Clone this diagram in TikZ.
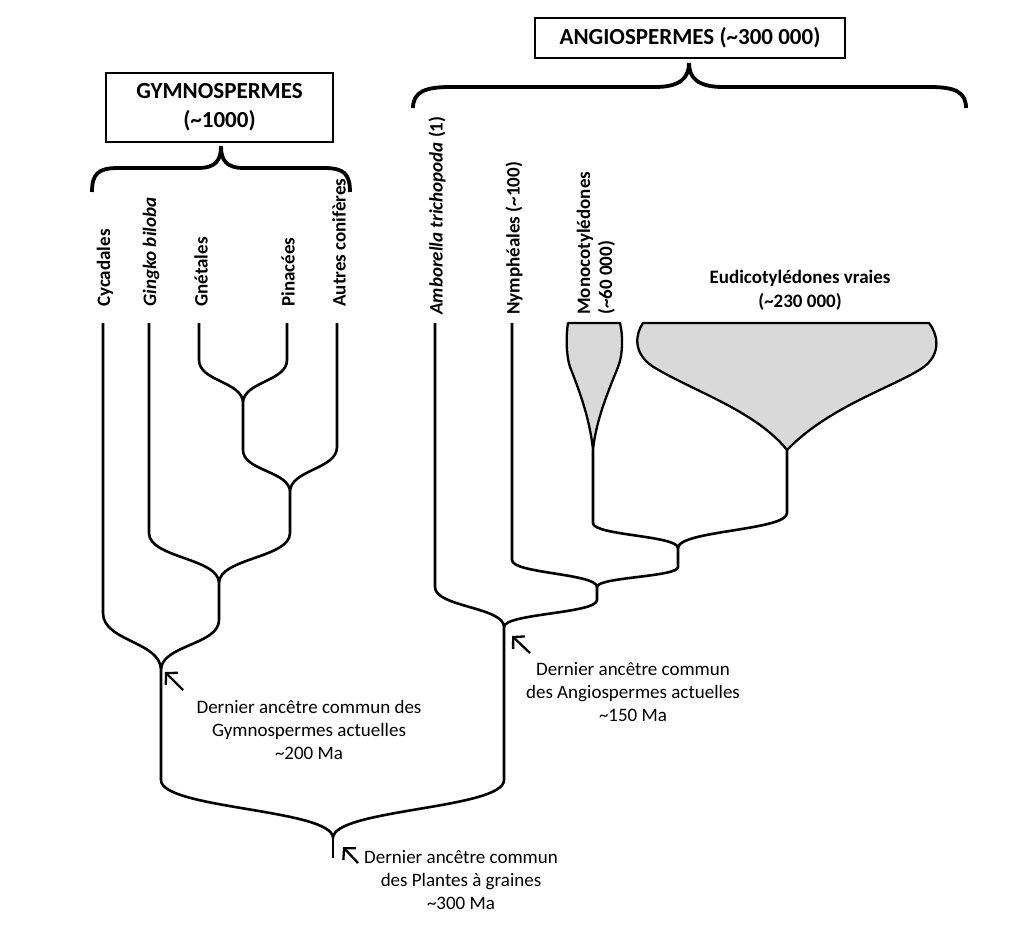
\documentclass[tikz,border=0pt]{standalone}
\usepackage{fontspec}
\setmainfont{Carlito}
\usetikzlibrary{calc,arrows.meta}
\tikzset{
  branche/.style={to path={let \p1=(\tikztostart),\p2=(\tikztotarget) in
    .. controls (\x1,\y1+0.5*#1pt) and (\x2,\y1+0.5*#1pt) .. (\x2,\y1+#1pt) -- (\tikztotarget)}},
  branche/.default=45,
  titre/.style={draw,line width=1.6pt,inner sep=0pt,align=center,font=\fontsize{23}{29}\selectfont\bfseries},
  accolade/.style={line width=3.8pt},
  etiq/.style={rotate=90,anchor=west,inner sep=0pt,align=left,font=\fontsize{19}{22}\selectfont\bfseries},
  texte/.style={align=center,inner sep=0pt,font=\fontsize{19}{23}\selectfont},
  groupe/.style={draw,line width=2.3pt,fill=black!15,line join=round},
  fleche/.style={-{Straight Barb[length=8pt,width=17pt]},line width=2.3pt}
}
\begin{document}
\begin{tikzpicture}[x=1pt,y=-1pt,line width=2.6pt]
\useasboundingbox (0,0) rectangle (1024,927);
%titres et accolades
\node[titre,minimum width=227pt,minimum height=69pt] (tgym) at (219.5,107.5) {GYMNOSPERMES\\(\textasciitilde1000)};
\node[titre,minimum width=310pt,minimum height=40pt] (tang) at (690,38) {ANGIOSPERMES (\textasciitilde300 000)};
\draw[accolade] (92,192) .. controls (92,174) and (98,168) .. (118,168) -- (198,168) .. controls (216,168) and (221,160) .. (221,146)
  .. controls (221,160) and (226,168) .. (244,168) -- (324,168) .. controls (344,168) and (350,174) .. (350,192);
\draw[accolade] (413,108) .. controls (413,92) and (425,87) .. (450,87) -- (655,87) .. controls (680,87) and (689,78) .. (689,63)
  .. controls (689,78) and (698,87) .. (723,87) -- (930,87) .. controls (955,87) and (966,92) .. (966,108);
%noms des groupes
\node[etiq] (lcyc) at (105,308) {Cycadales};
\node[etiq] (lgin) at (151,308) {\itshape Gingko biloba};
\node[etiq] (lgne) at (201,308) {Gnétales};
\node[etiq] (lpin) at (288,308) {Pinacées};
\node[etiq] (laut) at (339,308) {Autres conifères};
\node[etiq] (lamb) at (437,316) {\itshape Amborella trichopoda\/ \upshape(1)};
\node[etiq] (lnym) at (514,316) {Nymphéales (\textasciitilde100)};
\node[etiq] (lmon) at (596,316) {Monocotylédones\\(\textasciitilde60 000)};
\node[texte,font=\fontsize{19}{24}\selectfont\bfseries] (leud) at (800,290) {Eudicotylédones vraies\\(\textasciitilde230 000)};
%surfaces grises
\draw[groupe] (568,323) -- (620,323) .. controls (623,335) and (623,355) .. (618,367) .. controls (608,392) and (596,420) .. (593,450)
  .. controls (590,420) and (580,392) .. (570,367) .. controls (566,355) and (566,335) .. (568,323) -- cycle;
\draw[groupe] (643,323) -- (929,323) .. controls (937,333) and (942,352) .. (925,366) .. controls (900,385) and (830,405) .. (787,450)
  .. controls (755,410) and (690,390) .. (652,366) .. controls (632,352) and (636,333) .. (643,323) -- cycle;
%extremites des branches
\coordinate (cyc) at (103,323);
\coordinate (gin) at (149,323);
\coordinate (gne) at (199,323);
\coordinate (pin) at (287,323);
\coordinate (aut) at (337,323);
\coordinate (amb) at (435,323);
\coordinate (nym) at (512,323);
\coordinate (mon) at (593,450);
\coordinate (eud) at (787,450);
%noeuds
\coordinate (jgp) at (243,403);
\coordinate (jca) at (290,492);
\coordinate (jgi) at (219,583);
\coordinate (jgy) at (161,670);
\coordinate (jan) at (504,627);
\coordinate (jny) at (597,587);
\coordinate (jme) at (678,548);
\coordinate (rac) at (333,838);
\coordinate (bas) at (333,858);
%arbre
\draw (jgp) to[branche=43] (gne) (jgp) to[branche=43] (pin);
\draw (jca) to[branche=42] (jgp) (jca) to[branche=45] (aut);
\draw (jgi) to[branche=50] (gin) (jgi) to[branche=50] (jca);
\draw (jgy) to[branche=57] (cyc) (jgy) to[branche=50] (jgi);
\draw (jme) to[branche=25] (mon) (jme) to[branche=35] (eud);
\draw (jny) to[branche=27] (nym) (jny) to[branche=20] (jme);
\draw (jan) to[branche=40] (amb) (jan) to[branche=27] (jny);
\draw (rac) to[branche=58] (jgy) (rac) to[branche=58] (jan);
\draw (rac) -- (bas);
%ancetres communs
\node[texte] (agym) at (309,730) {Dernier ancêtre commun des\\Gymnospermes actuelles\\\textasciitilde200 Ma};
\node[texte] (aang) at (633,692) {Dernier ancêtre commun\\des Angiospermes actuelles\\\textasciitilde150 Ma};
\node[texte] (arac) at (461,880) {Dernier ancêtre commun\\des Plantes à graines\\\textasciitilde300 Ma};
\coordinate (qgym) at (183,690);
\coordinate (qang) at (530,653);
\coordinate (qrac) at (358,863);
\draw[fleche] (qgym) -- ([xshift=4pt,yshift=-2pt]jgy);
\draw[fleche] (qang) -- ([xshift=8pt,yshift=-9pt]jan);
\draw[fleche] (qrac) -- ([xshift=10pt,yshift=-9pt]rac);
\end{tikzpicture}
\end{document}
